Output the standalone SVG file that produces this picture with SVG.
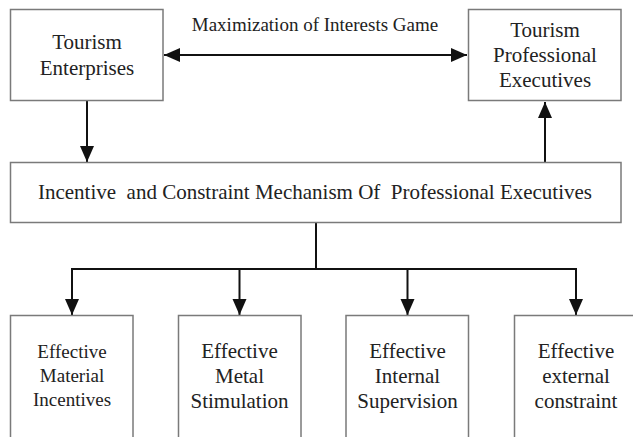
<svg xmlns="http://www.w3.org/2000/svg" width="633" height="437" viewBox="0 0 633 437">
  <style>
    .box { fill: #ffffff; stroke: #7a7a7a; stroke-width: 1.5; }
    .t { fill: #222222; text-anchor: middle; }
    .f21 { font-size: 21px; }
    .f19 { font-size: 19px; }
    .c { stroke: #111111; stroke-width: 2; fill: none; }
  </style>
  <defs>
    <marker id="ah" markerUnits="userSpaceOnUse" markerWidth="18" markerHeight="16" refX="16" refY="7" orient="auto-start-reverse">
      <path d="M0,0 L16,7 L0,14 Z" fill="#111111"/>
    </marker>
  </defs>
  <rect width="633" height="437" fill="#ffffff"/>

  <g id="connectors" font-family="Liberation Serif, serif">
    <line class="c" x1="164" y1="55" x2="467" y2="55" marker-start="url(#ah)" marker-end="url(#ah)"/>
    <text class="t f19" x="315" y="31">Maximization of Interests Game</text>
    <line class="c" x1="87" y1="101" x2="87" y2="162" marker-end="url(#ah)"/>
    <line class="c" x1="545" y1="162" x2="545" y2="102" marker-end="url(#ah)"/>
    <line class="c" x1="316" y1="223" x2="316" y2="269"/>
    <polyline class="c" points="72,290 72,269 576,269 576,290"/>
    <line class="c" x1="72" y1="269" x2="72" y2="315" marker-end="url(#ah)"/>
    <line class="c" x1="239.5" y1="269" x2="239.5" y2="315" marker-end="url(#ah)"/>
    <line class="c" x1="407.5" y1="269" x2="407.5" y2="315" marker-end="url(#ah)"/>
    <line class="c" x1="576" y1="269" x2="576" y2="315" marker-end="url(#ah)"/>
  </g>

  <g id="tourism-enterprises" font-family="Liberation Serif, serif">
    <rect class="box" x="10.5" y="9.5" width="152.5" height="91"/>
    <text class="t f21" x="87" y="49">Tourism</text>
    <text class="t f21" x="87" y="75">Enterprises</text>
  </g>

  <g id="tourism-professional-executives" font-family="Liberation Serif, serif">
    <rect class="box" x="468.5" y="9.5" width="152.5" height="91"/>
    <text class="t f21" x="545" y="37">Tourism</text>
    <text class="t f21" x="545" y="62">Professional</text>
    <text class="t f21" x="545" y="87">Executives</text>
  </g>

  <g id="mechanism" font-family="Liberation Serif, serif">
    <rect class="box" x="10.5" y="162.5" width="610.5" height="60"/>
    <text class="t f21" x="315" y="199" xml:space="preserve">Incentive  and Constraint Mechanism Of  Professional Executives</text>
  </g>

  <g id="material-incentives" font-family="Liberation Serif, serif">
    <rect class="box" x="10.5" y="315.5" width="122.5" height="125"/>
    <text class="t f19" x="72" y="358">Effective</text>
    <text class="t f19" x="72" y="382">Material</text>
    <text class="t f19" x="72" y="406">Incentives</text>
  </g>

  <g id="metal-stimulation" font-family="Liberation Serif, serif">
    <rect class="box" x="178.5" y="315.5" width="122.5" height="125"/>
    <text class="t f21" x="239.5" y="358">Effective</text>
    <text class="t f21" x="239.5" y="383">Metal</text>
    <text class="t f21" x="239.5" y="408">Stimulation</text>
  </g>

  <g id="internal-supervision" font-family="Liberation Serif, serif">
    <rect class="box" x="346" y="315.5" width="122.5" height="125"/>
    <text class="t f21" x="407.5" y="358">Effective</text>
    <text class="t f21" x="407.5" y="383">Internal</text>
    <text class="t f21" x="407.5" y="408">Supervision</text>
  </g>

  <g id="external-constraint" font-family="Liberation Serif, serif">
    <rect class="box" x="514.5" y="315.5" width="122.5" height="125"/>
    <text class="t f21" x="576" y="358">Effective</text>
    <text class="t f21" x="576" y="383">external</text>
    <text class="t f21" x="576" y="408">constraint</text>
  </g>
</svg>
